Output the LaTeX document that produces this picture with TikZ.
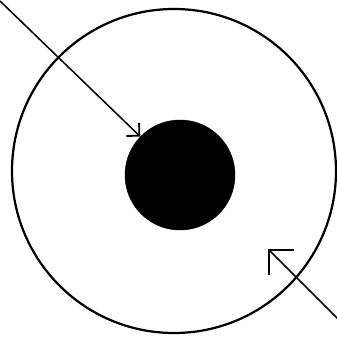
\documentclass[tikz,border=0pt]{standalone}
\usetikzlibrary{arrows.meta, calc}

\begin{document}
\begin{tikzpicture}[
  x=0.03cm, y=-0.03cm,
  shell/.style={
    draw=black, circle, line width=1.9pt, inner sep=0pt, minimum size=9.72cm
  },
  core/.style={
    draw=black, fill=black, circle, inner sep=0pt, minimum size=3.3cm
  },
  pointer/.style={
    draw=black, line width=1.3pt,
    -{Straight Barb[angle=90:#1, line width=1.6pt]}
  }
]

\useasboundingbox (0, 0) rectangle (336, 337);

% ── Shell and core ───────────────────────────────────────────────────────────
\node[shell] (shell) at (174, 171) {};
\node[core] (nucleus) at (180, 175) {};

% ── Pointers ─────────────────────────────────────────────────────────────────
\coordinate (inA) at (0, 1);
\coordinate (inB) at (338, 319);
\coordinate (tipB) at (268, 249);

\draw[pointer=11pt] (inA) -- (nucleus);
\draw[pointer=21pt] (inB) -- (tipB);

\end{tikzpicture}
\end{document}
